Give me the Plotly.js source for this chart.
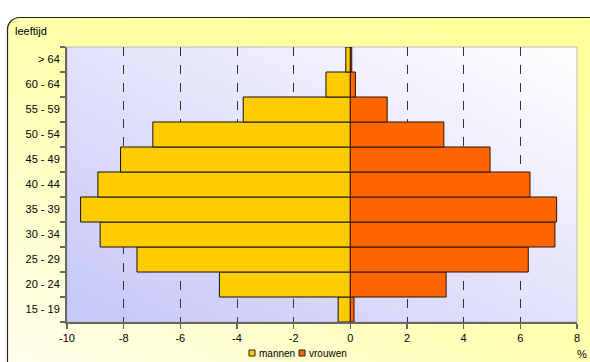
<!DOCTYPE html>
<html>
<head>
<meta charset="utf-8">
<script src="https://cdn.plot.ly/plotly-3.0.1.min.js"></script>
<style>html,body{margin:0;padding:0;background:#fff;}#chart{width:590px;height:362px;}</style>
</head>
<body>
<div id="chart"></div>
<script>
var ageGroups = ["15 - 19","20 - 24","25 - 29","30 - 34","35 - 39","40 - 44","45 - 49","50 - 54","55 - 59","60 - 64","> 64"];
var mannen = [-0.43,-4.62,-7.53,-8.83,-9.52,-8.91,-8.11,-6.97,-3.78,-0.86,-0.16];
var vrouwen = [0.13,3.38,6.28,7.22,7.28,6.34,4.93,3.30,1.30,0.18,0.05];
var xTicks = [-10,-8,-6,-4,-2,0,2,4,6,8];
var seriesNames = ["mannen","vrouwen"];
var seriesColors = ["#ffcc00","#ff6600"];

var W = 590, H = 362, L = 67, R = 13, T = 47, B = 40;
var pw = W - L - R, ph = H - T - B;
function px(x){ return (x - L) / pw; }
function py(y){ return (T + ph - y) / ph; }

var svg = '<svg xmlns="http://www.w3.org/2000/svg" width="590" height="362" viewBox="0 0 590 362" preserveAspectRatio="none">' +
  '<defs>' +
  '<linearGradient id="y" x1="1" y1="0" x2="0" y2="1"><stop offset="0" stop-color="#ffff99"/><stop offset="0.45" stop-color="#ffffa6"/><stop offset="1" stop-color="#fffff0"/></linearGradient>' +
  '<linearGradient id="p" x1="0" y1="1" x2="1" y2="0"><stop offset="0" stop-color="#c6c6f8"/><stop offset="1" stop-color="#ffffff"/></linearGradient>' +
  '</defs>' +
  '<rect x="7.5" y="17.5" width="640" height="360" rx="12" ry="12" fill="url(#y)" stroke="#222" stroke-width="1.2"/>' +
  '<rect x="' + L + '" y="' + T + '" width="' + pw + '" height="' + ph + '" fill="url(#p)" stroke="#bbbbbb" stroke-width="1"/>' +
  '</svg>';
var src = 'data:image/svg+xml;charset=utf-8,' + encodeURIComponent(svg);

var traces = [
  {type:'bar', orientation:'h', name:seriesNames[0], y:ageGroups, x:mannen,
   marker:{color:seriesColors[0], line:{color:'#111', width:1}}, hoverinfo:'x+y'},
  {type:'bar', orientation:'h', name:seriesNames[1], y:ageGroups, x:vrouwen,
   marker:{color:seriesColors[1], line:{color:'#331100', width:1}}, hoverinfo:'x+y'}
];

// custom compact legend (small squares like the original)
var legX = [249, 299], legY = 353;
var shapes = [], annotations = [];
for (var i = 0; i < seriesNames.length; i++) {
  shapes.push({type:'rect', xref:'paper', yref:'paper',
    x0:px(legX[i]), x1:px(legX[i] + 6), y0:py(legY + 3), y1:py(legY - 3),
    fillcolor:seriesColors[i], line:{color:'#222', width:1}});
  annotations.push({text:seriesNames[i], xref:'paper', yref:'paper',
    x:px(legX[i] + 8), y:py(legY), xanchor:'left', yanchor:'middle',
    showarrow:false, font:{size:10}});
}
annotations.push({text:'leeftijd', xref:'paper', yref:'paper', x:px(13), y:py(31),
  xanchor:'left', yanchor:'middle', showarrow:false, font:{size:11}});
annotations.push({text:'%', xref:'paper', yref:'paper', x:px(582), y:py(354),
  xanchor:'center', yanchor:'middle', showarrow:false, font:{size:11}});

var layout = {
  width: W, height: H,
  margin:{l:L, r:R, t:T, b:B, pad:0, autoexpand:false},
  paper_bgcolor:'rgba(0,0,0,0)', plot_bgcolor:'rgba(0,0,0,0)',
  barmode:'relative', bargap:0,
  font:{family:'Liberation Sans, Arial, sans-serif', size:11, color:'#000'},
  showlegend:false,
  xaxis:{range:[-10,8], tickvals:xTicks, ticktext:xTicks.map(String), showgrid:true,
         gridcolor:'#333', griddash:'dash', gridwidth:1,
         zeroline:true, zerolinecolor:'#000', zerolinewidth:1.5,
         showline:true, linecolor:'#666', linewidth:2,
         ticks:'outside', ticklen:5, tickcolor:'#666', tickwidth:1.5,
         tickfont:{size:11}, fixedrange:true, automargin:false},
  yaxis:{type:'category', categoryorder:'array', categoryarray:ageGroups,
         showline:true, linecolor:'#666', linewidth:2,
         ticks:'outside', ticklen:5, tickcolor:'#666', tickwidth:1.5, tickson:'boundaries',
         showgrid:false, tickfont:{size:11}, ticklabelstandoff:3, fixedrange:true, automargin:false},
  images:[{source:src, xref:'paper', yref:'paper', x:-L/pw, y:1 + T/ph,
           sizex:W/pw, sizey:H/ph, xanchor:'left', yanchor:'top', sizing:'stretch', layer:'below'}],
  shapes:shapes,
  annotations:annotations
};

Plotly.newPlot('chart', traces, layout, {displayModeBar:false, staticPlot:true});
</script>
</body>
</html>
